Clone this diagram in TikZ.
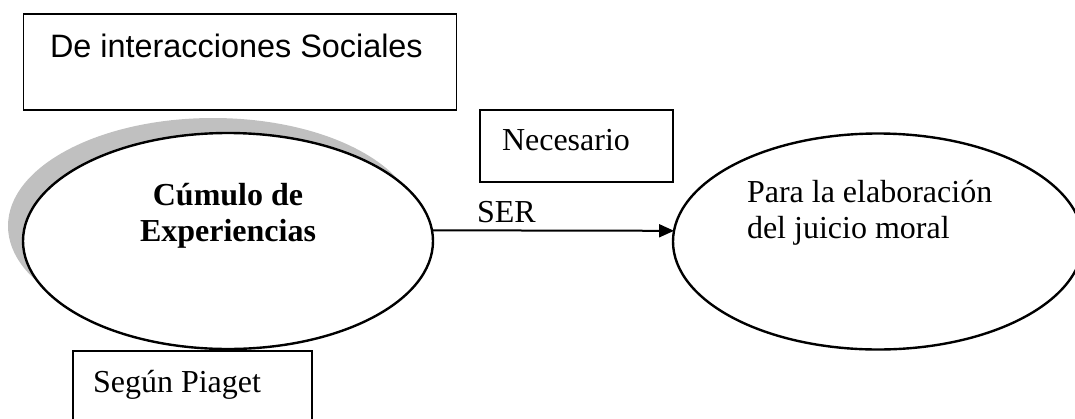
\documentclass[tikz,border=0pt]{standalone}
\usepackage{fontspec}
\setmainfont{Liberation Serif}
\newfontfamily\arialfont{Liberation Sans}
\usetikzlibrary{shapes.geometric,arrows.meta,shadows}
\definecolor{shgray}{HTML}{C0C0C0}
\begin{document}
\begin{tikzpicture}[x=1pt,y=-1pt,
  boxnode/.style={draw=black,line width=1.6pt,rectangle,inner sep=0pt,outer sep=0pt},
  ellnode/.style={draw=black,line width=2.4pt,ellipse,inner sep=0pt,outer sep=0pt,
    minimum width=410pt,minimum height=216pt,fill=white},
  txt/.style={inner sep=0pt,outer sep=0pt,font=\fontsize{32}{36}\selectfont},
  conn/.style={line width=2pt,-{Triangle[length=15pt,width=13pt]}}]
\useasboundingbox (0,0) rectangle (1075,418);
% top box
\node[boxnode,minimum width=433pt,minimum height=96pt] (inter) at (240,62) {};
\node[txt,anchor=base west,font=\arialfont\fontsize{32.4}{36}\selectfont] (intertxt) at (50,57) {De interacciones Sociales};
% Necesario box
\node[boxnode,minimum width=193pt,minimum height=72pt] (nec) at (576.5,146) {};
\node[txt,anchor=base west] (nectxt) at (502,150) {Necesario};
% left ellipse with shadow
\node[ellnode,drop shadow={shadow xshift=-15pt,shadow yshift=15pt,fill=shgray,opacity=1,draw=none}] (cum) at (228,241) {};
\node[txt,anchor=base,font=\bfseries\fontsize{32}{36}\selectfont] (cum1) at (228,205) {Cúmulo de};
\node[txt,anchor=base,font=\bfseries\fontsize{32}{36}\selectfont] (cum2) at (228,241) {Experiencias};
% right ellipse
\node[ellnode] (para) at (878,241.5) {};
\node[txt,anchor=base west] (para1) at (747,202) {Para la elaboración};
\node[txt,anchor=base west] (para2) at (747,238) {del juicio moral};
% arrow
\draw[conn] (cum.3) -- (para.177);
\node[txt,anchor=base west] (ser) at (477,222) {SER};
% Segun Piaget box
\node[boxnode,minimum width=239pt,minimum height=90pt] (pia) at (192.5,396) {};
\node[txt,anchor=base west] (piatxt) at (93,392) {Según Piaget};
\end{tikzpicture}
\end{document}
